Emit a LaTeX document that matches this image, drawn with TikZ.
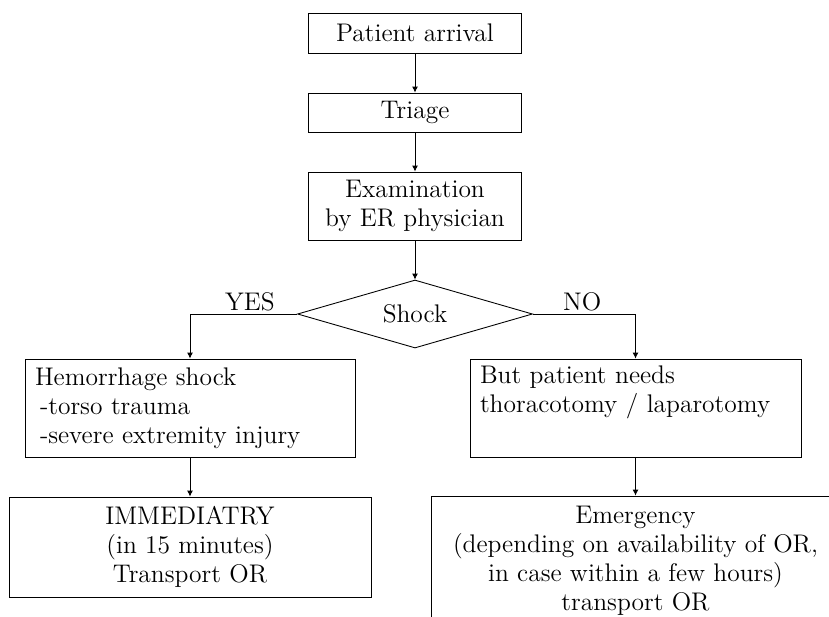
\documentclass[tikz,border=0pt]{standalone}
\usetikzlibrary{shapes.geometric,arrows.meta}

\begin{document}
\begin{tikzpicture}[
        font=\fontsize{14.5}{16.5}\selectfont,
        line width=0.5pt,
        box/.style={draw, rectangle, align=center, inner sep=0pt},
        listbox/.style={draw, rectangle, align=left, inner xsep=0.2cm, inner ysep=0pt, minimum height=1.96cm},
        flow/.style={-{Latex[length=1.2mm,width=1.2mm]}},
        answer/.style={above, inner sep=1.5pt}
    ]
        % Page size of the reference
        \useasboundingbox (0,0) rectangle (16.58,-12.32);
        \clip (0,0) rectangle (16.58,-12.32);

        % Main column
        \node[box, minimum width=4.26cm, minimum height=0.80cm] (arrival) at (8.30,-0.66) {Patient arrival};
        \node[box, minimum width=4.26cm, minimum height=0.78cm] (triage) at (8.30,-2.25) {Triage};
        \node[box, minimum width=4.26cm, minimum height=1.36cm] (exam) at (8.30,-4.12) {Examination\\by ER physician};
        \node[draw, diamond, aspect=3.5, minimum width=4.70cm, minimum height=1.36cm, inner sep=0pt] (shock) at (8.30,-6.28) {Shock};

        % Left branch
        \node[listbox, text width=6.20cm] (hemo) at (3.80,-8.16) {Hemorrhage shock\\\hspace*{1mm}-torso trauma\\\hspace*{1mm}-severe extremity injury};
        \node[box, minimum width=7.24cm, minimum height=2.00cm] (now) at (3.80,-10.94) {IMMEDIATRY\\(in 15 minutes)\\Transport OR};

        % Right branch
        \node[listbox, text width=6.22cm] (needs) at (12.71,-8.16) {But patient needs\\thoracotomy / laparotomy\\\strut};
        \node[box, minimum width=8.18cm, minimum height=2.58cm] (later) at (12.71,-11.21) {Emergency\\(depending on availability of OR,\\in case within a few hours)\\transport OR};

        % Connectors
        \draw[flow] (arrival) -- (triage);
        \draw[flow] (triage) -- (exam);
        \draw[flow] (exam) -- (shock);
        \draw[flow] (shock.west) -| node[answer, pos=0.22] (yes) {YES} (hemo.north);
        \draw[flow] (shock.east) -| node[answer, pos=0.24] (no) {NO} (needs.north);
        \draw[flow] (hemo) -- (now);
        \draw[flow] (needs) -- (later);
    \end{tikzpicture}
\end{document}
